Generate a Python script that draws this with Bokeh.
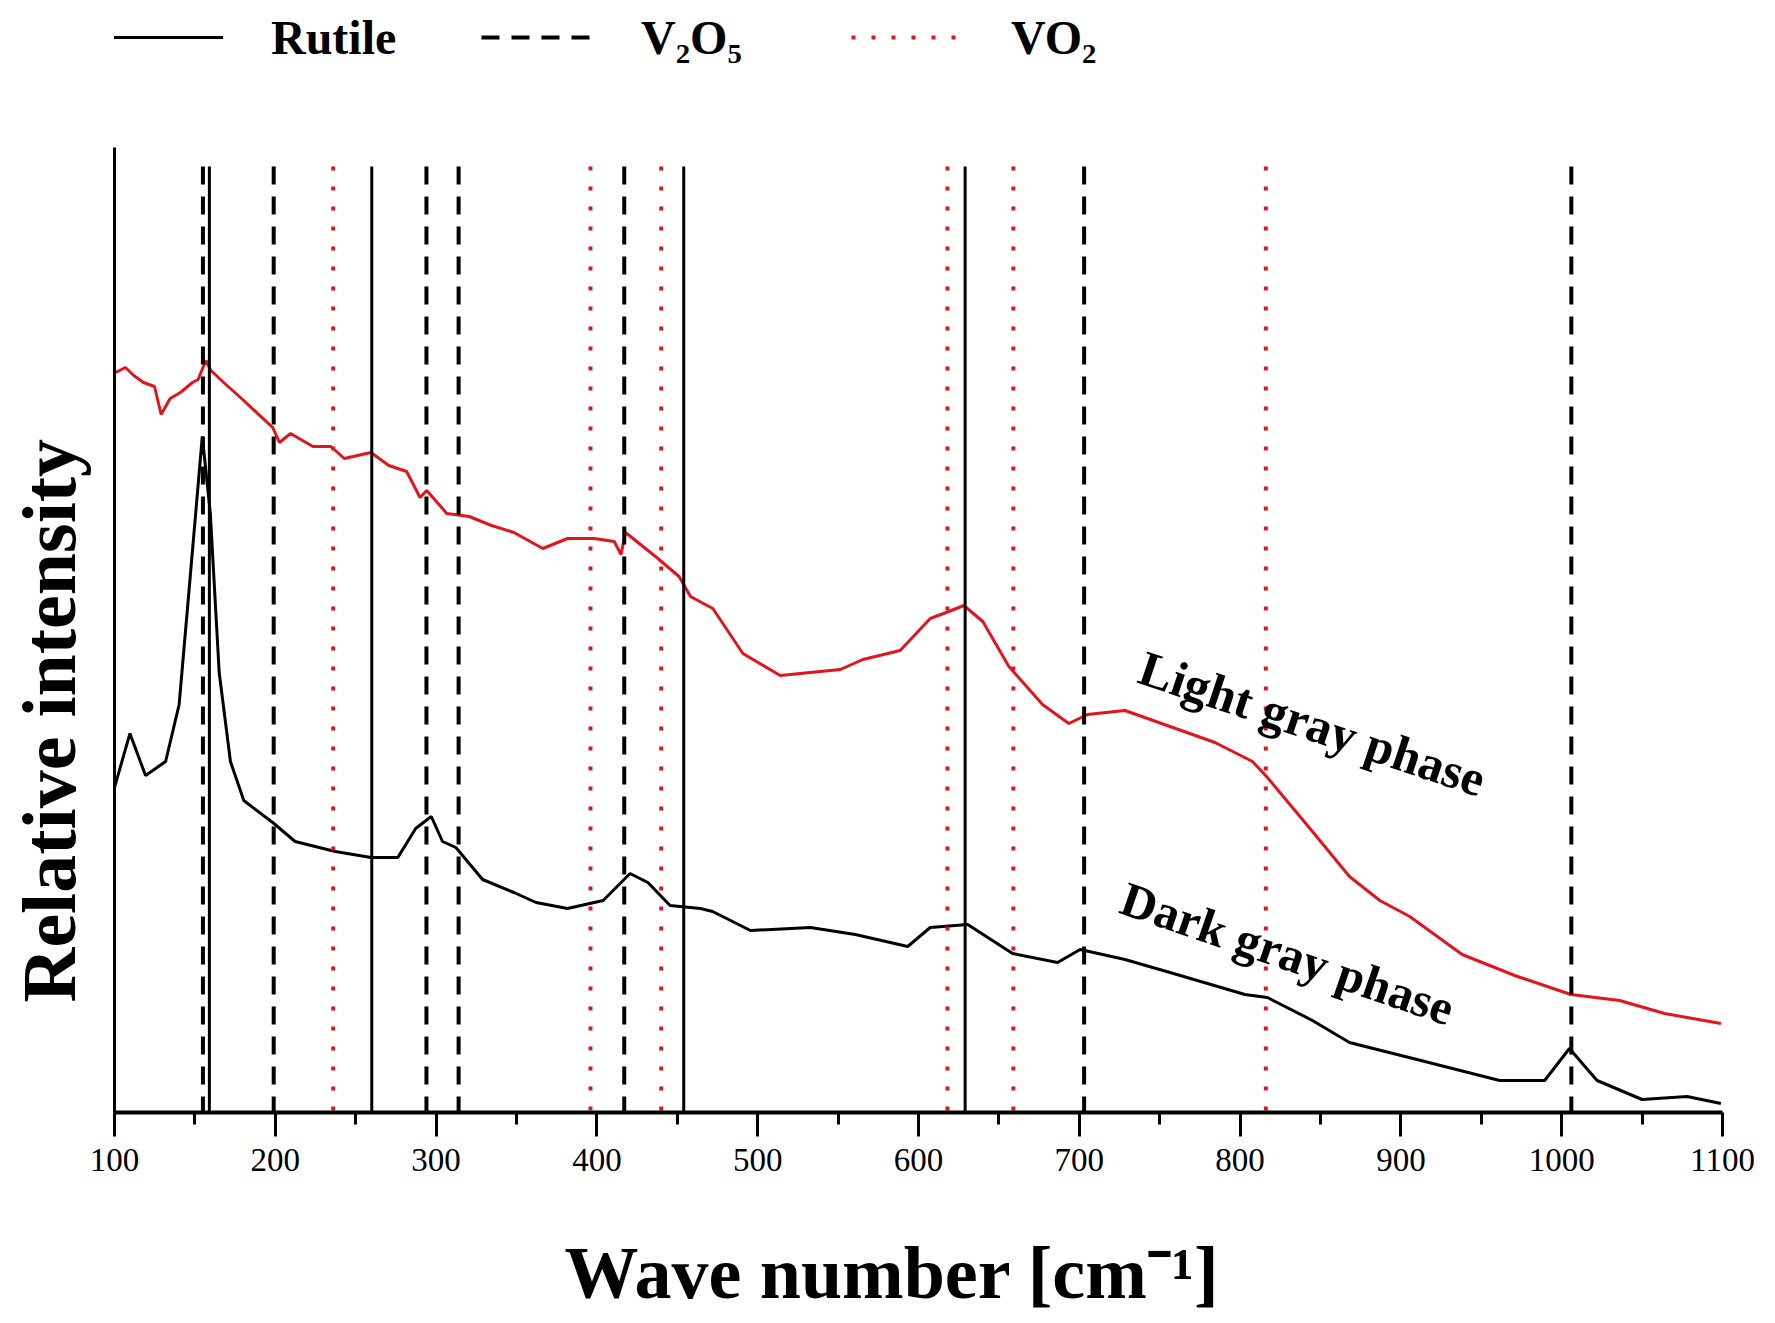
from bokeh.plotting import figure
from bokeh.layouts import column
from bokeh.models import Range1d, Label, Legend, LegendItem, FixedTicker, Title
from bokeh.embed import file_html
from bokeh.resources import INLINE

# ---------------- data ----------------
wavenumber_dark = [100, 109.6, 119.3, 131.8, 140.2, 147.1, 154.6, 159.6, 165.1, 172.1, 180.4,
                   198.4, 212.3, 237.3, 259.5, 276.2, 287.3, 297, 304, 312.3, 328.9, 348.4,
                   362.2, 381.7, 403.9, 420.6, 431.7, 445.5, 464.4, 472, 495.5, 532.7, 560.7,
                   593.3, 607.3, 630.6, 658.5, 686.5, 700.5, 728.4, 756.4, 803, 817, 845, 868,
                   914.9, 961.4, 989.4, 1004.8, 1022, 1050, 1078, 1099]
intensity_dark = [325, 379, 337, 351, 408, 536, 676, 599, 440, 351, 312,
                  290, 271, 261, 255, 255, 284, 296, 271, 265, 233, 220,
                  210, 204, 212, 239, 230, 207, 204, 201, 182, 185, 178,
                  166, 185, 188, 159, 150, 163, 153, 140, 118, 115, 92, 70,
                  51, 32, 32, 64, 32, 13, 16, 9]

wavenumber_light = [100.7, 106.8, 112, 118, 124.9, 129, 134.6, 141, 148.5, 152, 156.8, 160, 167.9,
                    179, 198.4, 202.6, 209.5, 223.4, 234.6, 242.9, 259.5, 270.6, 281.7, 290,
                    294.2, 306.7, 320.6, 334.5, 348.4, 366.4, 381.7, 398.4, 410.8, 415, 417.8,
                    437.2, 451.1, 458.2, 472.1, 490.8, 514, 551.4, 565.4, 588.6, 607.3, 618.9,
                    628.2, 640, 656.2, 677.1, 693.5, 705.1, 728.4, 756.4, 784.4, 807.7, 817,
                    845, 868, 886.9, 905.5, 938.1, 970.8, 1005.7, 1036, 1064, 1099]
intensity_light = [740, 745, 737, 730, 726, 698, 714, 720, 730, 733, 752, 742, 730,
                   714, 685, 670, 679, 666, 666, 654, 660, 647, 641, 615,
                   622, 599, 596, 587, 580, 564, 574, 574, 571, 558, 580,
                   555, 536, 516, 504, 459, 437, 443, 453, 462, 494, 501,
                   507, 491, 446, 408, 389, 398, 402, 386, 370, 351, 335,
                   281, 236, 212, 196, 158, 137, 118, 112, 99, 89]

rutile_peaks = [159, 260, 454, 629]
v2o5_peaks = [155, 199, 294, 314, 417, 703, 1006]
vo2_peaks = [236, 396, 440, 618, 659, 816]

x_tick_values = [100, 200, 300, 400, 500, 600, 700, 800, 900, 1000, 1100]

series_labels = ["Rutile", "V\u2082O\u2085", "VO\u2082"]
phase_labels = ["Light gray phase", "Dark gray phase"]
x_title = "Wave number [cm\u207b\u00b9]"
y_title = "Relative intensity"

# ---------------- styling ----------------
SERIF = "Liberation Serif"
RED = "#e3141b"
REF_TOP = 946  # top of reference lines (data units)
LINE_STYLES = [dict(line_color="black", line_width=3),
               dict(line_color="black", line_width=4, line_dash="18 12"),
               dict(line_color=RED, line_width=4, line_dash="4 16")]
PEAK_SETS = [rutile_peaks, v2o5_peaks, vo2_peaks]


def draw_peak_lines(fig):
    rs = []
    for peaks, style in zip(PEAK_SETS, LINE_STYLES):
        rs.append(fig.segment(x0=peaks, y0=[REF_TOP] * len(peaks),
                              x1=peaks, y1=[0] * len(peaks), **style))
    return rs


def spacer(size):
    # blank (white-on-white) title used only to reserve room in a side panel
    return Title(text=" ", text_font_size="1px", standoff=size, text_color="white")


# ---------------- main plot ----------------
p = figure(width=1775, height=1176,
           x_range=Range1d(100, 1100), y_range=Range1d(0, 965),
           output_backend="svg", toolbar_location=None,
           min_border_left=114, min_border_right=53,
           min_border_top=0, min_border_bottom=211)
p.background_fill_color = "white"
p.border_fill_color = "white"
p.outline_line_color = None
p.grid.visible = False

xa = p.xaxis[0]
xa.ticker = FixedTicker(ticks=x_tick_values,
                        minor_ticks=[v + 50 for v in x_tick_values[:-1]])
xa.axis_line_width = 4
xa.axis_line_color = "black"
xa.major_tick_line_width = 3
xa.major_tick_out = 24
xa.major_tick_in = 0
xa.minor_tick_line_width = 3
xa.minor_tick_out = 12
xa.minor_tick_in = 0
xa.major_label_standoff = 12
xa.major_label_text_font = SERIF
xa.major_label_text_font_size = "33px"
xa.major_label_text_color = "black"

ya = p.yaxis[0]
ya.ticker = FixedTicker(ticks=[])
ya.axis_line_width = 3
ya.axis_line_color = "black"
ya.major_tick_out = 0
ya.minor_tick_out = 0
ya.major_label_text_font_size = "0px"

p.line(wavenumber_light, intensity_light, line_color=RED, line_width=3)
p.line(wavenumber_dark, intensity_dark, line_color="black", line_width=3)
draw_peak_lines(p)

p.add_layout(Label(x=845, y=389, text=phase_labels[0], angle=-18.5, angle_units="deg",
                   text_align="center", text_baseline="middle",
                   text_font=SERIF, text_font_style="bold", text_font_size="50px",
                   text_color="black"))
p.add_layout(Label(x=829.5, y=159, text=phase_labels[1], angle=-19, angle_units="deg",
                   text_align="center", text_baseline="middle",
                   text_font=SERIF, text_font_style="bold", text_font_size="49px",
                   text_color="black"))

# axis titles (spacer panels sit between axis and title)
p.add_layout(spacer(53), "below")
p.add_layout(Title(text=x_title, align="left", offset=450, standoff=0,
                   text_font=SERIF, text_font_style="bold", text_font_size="74px",
                   text_color="black"), "below")
p.add_layout(spacer(21), "left")
p.add_layout(Title(text=y_title, align="left", offset=110, standoff=0,
                   text_font=SERIF, text_font_style="bold", text_font_size="76px",
                   text_color="black"), "left")

# ---------------- legend strip ----------------
lf = figure(width=1775, height=147,
            x_range=Range1d(100, 1100), y_range=Range1d(2000, 3000),
            output_backend="svg", toolbar_location=None,
            x_axis_type=None, y_axis_type=None,
            min_border_left=0, min_border_right=0,
            min_border_top=0, min_border_bottom=0)
lf.outline_line_color = None
lf.grid.visible = False
lf.background_fill_color = "white"
lf.border_fill_color = "white"
legend_renderers = draw_peak_lines(lf)   # out of view: only feed the legend

legend = Legend(items=[LegendItem(label=lab, renderers=[r])
                       for lab, r in zip(series_labels, legend_renderers)],
                location=(-3, 82), orientation="horizontal",
                padding=0, margin=0, spacing=3,
                glyph_width=112, glyph_height=56, label_height=56,
                label_width=207, label_standoff=48,
                label_text_font=SERIF, label_text_font_style="bold",
                label_text_font_size="48px", label_text_color="black",
                background_fill_alpha=0, border_line_color=None)
lf.add_layout(legend)

layout = column(lf, p, spacing=0)
open("out.html", "w").write(file_html(layout, INLINE))
